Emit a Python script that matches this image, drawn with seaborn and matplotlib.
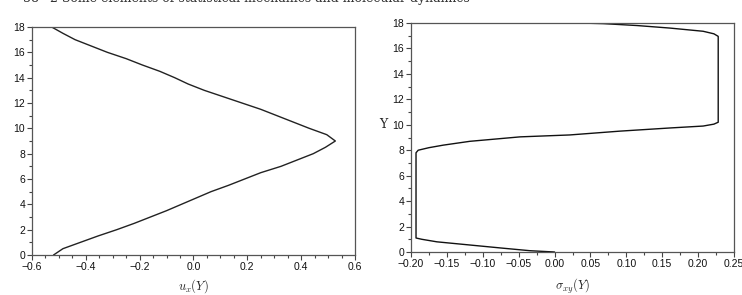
import numpy as np
import pandas as pd
import matplotlib
matplotlib.use("Agg")
import matplotlib.pyplot as plt
from matplotlib.ticker import MultipleLocator, FuncFormatter
import seaborn as sns

# ---- data ----
y_left = [0.0, 0.5, 1.0, 1.5, 2.0, 2.5, 3.0, 3.5, 4.0, 4.5, 5.0, 5.5, 6.0, 6.5,
          7.0, 7.5, 8.0, 8.5, 9.0, 9.5, 10.0, 10.5, 11.0, 11.5, 12.0, 12.5,
          13.0, 13.5, 14.0, 14.5, 15.0, 15.5, 16.0, 16.5, 17.0, 17.5, 18.0]
u_x = [-0.52, -0.485, -0.42, -0.355, -0.285, -0.22, -0.16, -0.10, -0.045, 0.01,
       0.065, 0.13, 0.19, 0.25, 0.325, 0.385, 0.445, 0.49, 0.527, 0.495, 0.43,
       0.37, 0.31, 0.25, 0.18, 0.11, 0.04, -0.02, -0.07, -0.125, -0.19, -0.25,
       -0.32, -0.38, -0.44, -0.485, -0.527]

y_right = [0.0, 0.1, 0.3, 0.55, 0.8, 1.0, 1.1, 7.8, 8.0, 8.2, 8.4, 8.7, 9.05,
           9.2, 9.5, 9.75, 9.9, 10.05, 10.2, 16.95, 17.15, 17.35, 17.6, 17.8,
           17.95, 18.0]
sigma_xy = [0.0, -0.034, -0.072, -0.118, -0.164, -0.185, -0.193, -0.193, -0.19,
            -0.175, -0.155, -0.118, -0.048, 0.021, 0.091, 0.161, 0.207, 0.222,
            0.228, 0.228, 0.222, 0.207, 0.161, 0.115, 0.068, 0.033]

left_xticks = [-0.6, -0.4, -0.2, 0.0, 0.2, 0.4, 0.6]
right_xticks = [-0.20, -0.15, -0.10, -0.05, 0.00, 0.05, 0.10, 0.15, 0.20, 0.25]
yticks = [0, 2, 4, 6, 8, 10, 12, 14, 16, 18]

page_number = "38"
header = "2 Some elements of statistical mechanics and molecular dynamics"

# ---- styling ----
sns.set_theme(style="white")
plt.rcParams["font.family"] = ["Liberation Sans", "DejaVu Sans"]
plt.rcParams["mathtext.fontset"] = "cm"


def fmt_factory(nd):
    def f(v, pos):
        s = f"{abs(v):.{nd}f}"
        return ("\u2212" + s) if v < -1e-9 else s
    return FuncFormatter(f)


fig = plt.figure(figsize=(7.42, 2.95), dpi=100)
ax1 = fig.add_axes([32 / 742, 1 - 255 / 295, 323 / 742, 228 / 295])
ax2 = fig.add_axes([411 / 742, 1 - 252 / 295, 323 / 742, 229 / 295])

dfl = pd.DataFrame({"u": u_x, "Y": y_left})
dfr = pd.DataFrame({"s": sigma_xy, "Y": y_right})
sns.lineplot(data=dfl, x="u", y="Y", sort=False, estimator=None, color="#222222",
             lw=1.0, ax=ax1)
sns.lineplot(data=dfr, x="s", y="Y", sort=False, estimator=None, color="#111111",
             lw=1.0, ax=ax2)

for ax, xt, minor, nd in [(ax1, left_xticks, 0.05, 1),
                          (ax2, right_xticks, 0.025, 2)]:
    ax.set_xlim(xt[0], xt[-1])
    ax.set_ylim(0, 18)
    ax.set_xticks(xt)
    ax.set_yticks(yticks)
    ax.xaxis.set_minor_locator(MultipleLocator(minor))
    ax.yaxis.set_minor_locator(MultipleLocator(1))
    ax.xaxis.set_major_formatter(fmt_factory(nd))
    ax.tick_params(which="both", direction="out", bottom=True, left=True,
                   top=False, right=False, color="#444444", width=0.8,
                   labelsize=7.5, pad=1.5, labelcolor="#111111")
    ax.tick_params(which="major", length=3.5)
    ax.tick_params(which="minor", length=2)
    for sp in ax.spines.values():
        sp.set_color("#555555")
        sp.set_linewidth(0.9)
    ax.grid(False)

ax1.set_xlabel(r"$u_x(Y)$", fontsize=9, labelpad=4)
ax1.set_ylabel("")
ax2.set_xlabel(r"$\sigma_{xy}(Y)$", fontsize=9, labelpad=6)
ax2.set_ylabel("Y", rotation=0, fontsize=9, family="DejaVu Serif")
ax2.yaxis.set_label_coords(-0.087, 0.53)

fig.text(23 / 742, 1.0 + 2 / 295, page_number, fontsize=9, family="DejaVu Serif",
         color="#333333", va="center", ha="left")
fig.text(50 / 742, 1.0 + 2 / 295, header, fontsize=9, family="DejaVu Serif",
         color="#333333", va="center", ha="left")

fig.savefig("out.png", dpi=100)
